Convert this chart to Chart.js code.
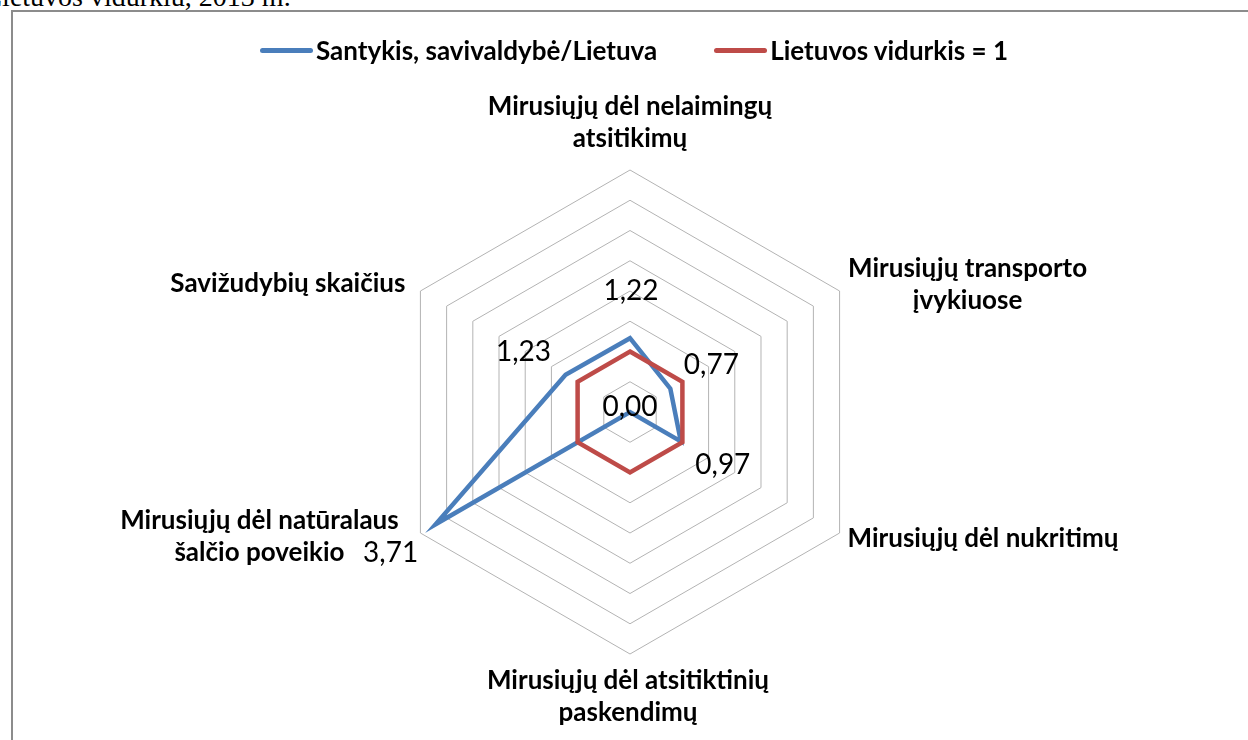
<!DOCTYPE html>
<html lang="lt">
<head>
<meta charset="utf-8">
<title>Santykis, savivaldybė/Lietuva</title>
<script src="https://cdn.jsdelivr.net/npm/chart.js@4.4.1/dist/chart.umd.min.js"></script>
<style>
  html, body { margin: 0; padding: 0; background: #fff; }
  body { width: 1248px; height: 740px; position: relative; overflow: hidden; font-family: Lato, "Open Sans", sans-serif; }
  .caption { position: absolute; left: -15px; top: -17px; font: 28px "Liberation Serif", serif; line-height: 1; color: #000; white-space: nowrap; }
  .frame { position: absolute; left: 11px; top: 10px; width: 1300px; height: 800px; border-left: 2px solid #8c8c8c; border-top: 2px solid #8c8c8c; }
  #radar { position: absolute; left: 0; top: 0; }
  .legend { position: absolute; left: 260px; top: 35px; display: flex; align-items: center; font: bold 26px/1.2 Lato, sans-serif; color: #000; white-space: nowrap; }
  .legend .item { display: flex; align-items: center; }
  .legend .item + .item { margin-left: 57px; }
  .legend .swatch { width: 53px; height: 5px; border-radius: 3px; margin-right: 3px; }
</style>
</head>
<body>
<div class="caption">Lietuvos vidurkiu, 2013 m.</div>
<div class="frame"></div>
<canvas id="radar" width="1248" height="740"></canvas>
<div class="legend" id="legend"></div>
<script>
const categories = [
  ["Mirusiųjų dėl nelaimingų", "atsitikimų"],
  ["Mirusiųjų transporto", "įvykiuose"],
  ["Mirusiųjų dėl nukritimų"],
  ["Mirusiųjų dėl atsitiktinių", "paskendimų"],
  ["Mirusiųjų dėl natūralaus", "šalčio poveikio"],
  ["Savižudybių skaičius"],
];
const ratioValues = [1.22, 0.77, 0.97, 0.00, 3.71, 1.23];
const averageValues = [1, 1, 1, 1, 1, 1];
const seriesNames = ["Santykis, savivaldybė/Lietuva", "Lietuvos vidurkis = 1"];
const seriesColors = ["#4a7ebb", "#be4b48"];
const axisMax = 4;
const axisStep = 0.5;

// where Excel put the category texts, relative to the outer vertex of each axis
const catPlacement = [
  { dx: 0, dy: -55, align: "center" },
  { dx: 128, dy: -14, align: "center" },
  { dx: 8, dy: 14, align: "left" },
  { dx: -2, dy: 35, align: "center" },
  { dx: -161, dy: -4, align: "center" },
  { dx: -15, dy: 1, align: "right" },
];
// and the value labels, relative to each blue point
const valuePlacement = [
  { dx: 1, dy: -47 },
  { dx: 41, dy: -24 },
  { dx: 42, dy: 24 },
  { dx: 0, dy: -5 },
  { dx: -45, dy: 29 },
  { dx: -42, dy: -23 },
];

const fmt = (v) => v.toFixed(2).replace(".", ",");

const radarLabels = {
  id: "radarLabels",
  afterDatasetsDraw(chart) {
    const scale = chart.scales.r;
    const ctx = chart.ctx;
    ctx.save();
    ctx.fillStyle = "#000";

    ctx.font = "bold 26px Lato, sans-serif";
    ctx.textBaseline = "alphabetic";
    categories.forEach((lines, i) => {
      const p = scale.getPointPosition(i, scale.drawingArea);
      const pl = catPlacement[i];
      ctx.textAlign = pl.align;
      lines.forEach((line, k) => {
        ctx.fillText(line, p.x + pl.dx, p.y + pl.dy + k * 32);
      });
    });

    ctx.font = "28px Lato, sans-serif";
    ctx.textAlign = "center";
    ctx.textBaseline = "middle";
    ratioValues.forEach((v, i) => {
      const p = scale.getPointPositionForValue(i, v);
      const pl = valuePlacement[i];
      ctx.fillText(fmt(v), p.x + pl.dx, p.y + pl.dy);
    });
    ctx.restore();
  },
};

function renderLegend() {
  const el = document.getElementById("legend");
  el.innerHTML = seriesNames
    .map((name, i) => `<div class="item"><span class="swatch" style="background:${seriesColors[i]}"></span>${name}</div>`)
    .join("");
}

function renderChart() {
  const ctx = document.getElementById("radar");
  new Chart(ctx, {
    type: "radar",
    data: {
      labels: categories,
      datasets: [
        {
          label: seriesNames[0],
          data: ratioValues,
          borderColor: seriesColors[0],
          backgroundColor: "transparent",
          borderWidth: 4.5,
          pointRadius: 0,
          fill: false,
          order: 1,
        },
        {
          label: seriesNames[1],
          data: averageValues,
          borderColor: seriesColors[1],
          backgroundColor: "transparent",
          borderWidth: 4.5,
          pointRadius: 0,
          fill: false,
          order: 0,
        },
      ],
    },
    options: {
      responsive: false,
      animation: false,
      devicePixelRatio: 1,
      layout: { padding: { left: 388, right: 376, top: 170, bottom: 86 } },
      elements: { line: { tension: 0, borderJoinStyle: "miter" } },
      plugins: { legend: { display: false }, tooltip: { enabled: false } },
      scales: {
        r: {
          min: 0,
          max: axisMax,
          ticks: { stepSize: axisStep, display: false },
          grid: { color: "#b3b3b3", lineWidth: 1 },
          angleLines: { display: false },
          pointLabels: { display: false },
        },
      },
    },
    plugins: [radarLabels],
  });
}

renderLegend();
renderChart();
</script>
</body>
</html>
